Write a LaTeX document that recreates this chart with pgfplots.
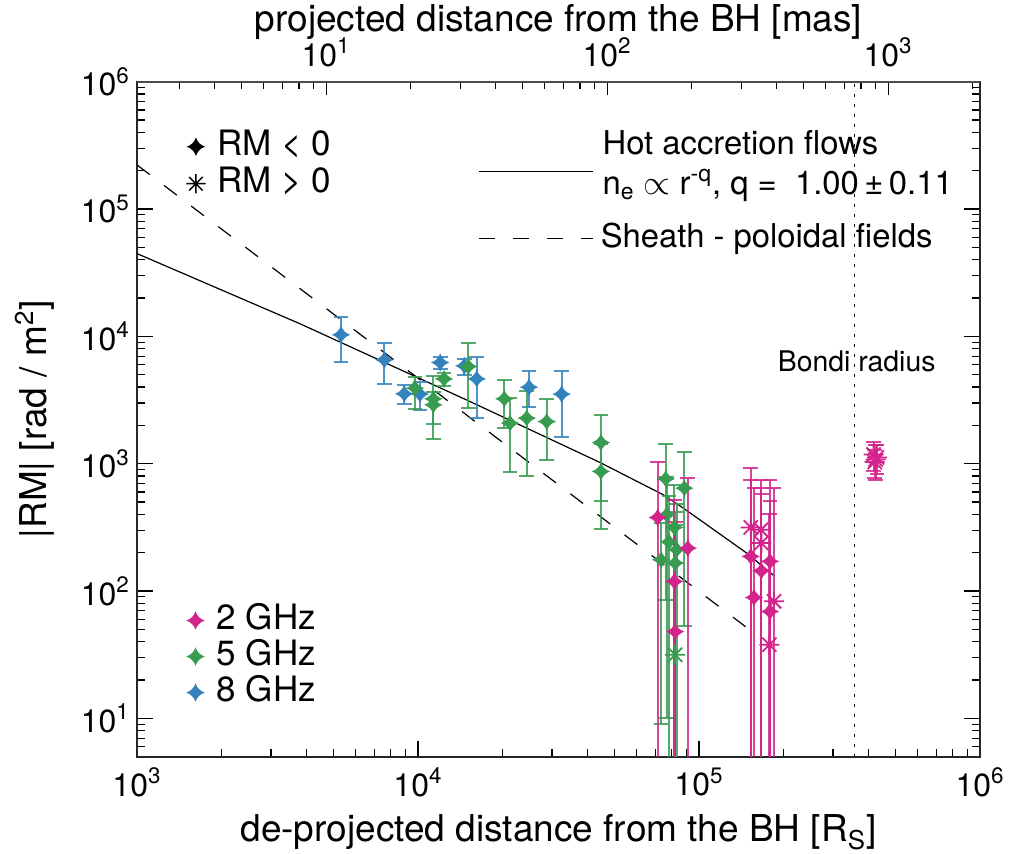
\documentclass[border=0pt]{standalone}
\usepackage{pgfplots}
\pgfplotsset{compat=1.18}
\usepackage{fontspec}
\setmainfont{TeX Gyre Heros}
\definecolor{mag}{RGB}{212,35,140}
\definecolor{grn}{RGB}{55,155,80}
\definecolor{blu}{RGB}{50,130,190}

\pgfdeclareplotmark{sparkle}{%
  \pgfpathmoveto{\pgfqpoint{0pt}{\pgfplotmarksize}}%
  \pgfpathquadraticcurveto{\pgfqpoint{0.25\pgfplotmarksize}{0.25\pgfplotmarksize}}{\pgfqpoint{\pgfplotmarksize}{0pt}}%
  \pgfpathquadraticcurveto{\pgfqpoint{0.25\pgfplotmarksize}{-0.25\pgfplotmarksize}}{\pgfqpoint{0pt}{-\pgfplotmarksize}}%
  \pgfpathquadraticcurveto{\pgfqpoint{-0.25\pgfplotmarksize}{-0.25\pgfplotmarksize}}{\pgfqpoint{-\pgfplotmarksize}{0pt}}%
  \pgfpathquadraticcurveto{\pgfqpoint{-0.25\pgfplotmarksize}{0.25\pgfplotmarksize}}{\pgfqpoint{0pt}{\pgfplotmarksize}}%
  \pgfpathclose
  \pgfusepathqfill
}
\pgfdeclareplotmark{ast8}{%
  \pgfpathmoveto{\pgfqpoint{0pt}{\pgfplotmarksize}}\pgfpathlineto{\pgfqpoint{0pt}{-\pgfplotmarksize}}%
  \pgfpathmoveto{\pgfqpoint{\pgfplotmarksize}{0pt}}\pgfpathlineto{\pgfqpoint{-\pgfplotmarksize}{0pt}}%
  \pgfpathmoveto{\pgfqpoint{0.7071\pgfplotmarksize}{0.7071\pgfplotmarksize}}\pgfpathlineto{\pgfqpoint{-0.7071\pgfplotmarksize}{-0.7071\pgfplotmarksize}}%
  \pgfpathmoveto{\pgfqpoint{-0.7071\pgfplotmarksize}{0.7071\pgfplotmarksize}}\pgfpathlineto{\pgfqpoint{0.7071\pgfplotmarksize}{-0.7071\pgfplotmarksize}}%
  \pgfusepathqstroke
}

\newcommand{\bigf}{\fontsize{16}{19}\selectfont}
\newcommand{\labf}{\fontsize{18.5}{22}\selectfont}
\newcommand{\legf}{\fontsize{17.5}{21}\selectfont}
\newcommand{\hotf}{\fontsize{16.4}{19.5}\selectfont}

\begin{document}
\begin{tikzpicture}
% ---------------- main axis ----------------
\begin{axis}[scale only axis, width=421.5pt, height=337.5pt, at={(0,0)}, anchor=south west,
  xmode=log, ymode=log, xmin=1e3, xmax=1e6, ymin=5, ymax=1e6,
  xtick={1e3,1e4,1e5,1e6},
  xticklabels={10\textsuperscript{3},10\textsuperscript{4},10\textsuperscript{5},10\textsuperscript{6}},
  ytick={10,100,1000,10000,100000,1000000},
  yticklabels={10\textsuperscript{1},10\textsuperscript{2},10\textsuperscript{3},10\textsuperscript{4},10\textsuperscript{5},10\textsuperscript{6}},
  minor xtick={2000,3000,4000,5000,6000,7000,8000,9000,20000,30000,40000,50000,60000,70000,80000,90000,200000,300000,400000,500000,600000,700000,800000,900000},
  minor ytick={6,7,8,9,20,30,40,50,60,70,80,90,200,300,400,500,600,700,800,900,2000,3000,4000,5000,6000,7000,8000,9000,20000,30000,40000,50000,60000,70000,80000,90000,200000,300000,400000,500000,600000,700000,800000,900000},
  xtick pos=bottom, ytick pos=both,
  tick align=inside, major tick length=8pt, minor tick length=4pt,
  axis line style={line width=1pt, black!85},
  tick style={line width=0.6pt, black},
  ticklabel style={font=\bigf},
  xticklabel style={yshift=-2pt},
  label style={font=\labf},
  xlabel={de-projected distance from the BH [R\textsubscript{S}]},
  ylabel={|RM| [rad / m\textsuperscript{2}]},
  xlabel style={at={(axis description cs:0.5,-0.112)}, anchor=center},
  ylabel style={at={(axis description cs:-0.121,0.5)}, anchor=center},
  legend cell align=left,
  legend style={draw=none, fill=none, font=\legf, inner sep=0pt,
    nodes={inner sep=1pt, text height=12pt, text depth=3pt}, row sep=1pt,
    at={(axis description cs:0.058,0.2275)}, anchor=north west},
]
% Bondi radius
\addplot[forget plot, black, line width=0.7pt, dash pattern=on 1.5pt off 3.5pt] coordinates {(357000,5) (357000,1000000)};
\node[font=\fontsize{14.2}{17}\selectfont, anchor=base] at (axis cs:364000,5295) {Bondi radius};
% hot accretion flow model
\addplot[forget plot, black, line width=0.6pt] coordinates {
(1000,44670) (3811,12535) (15315,3078) (44430,1022) (74650,570) (87940,448) (147800,198.8) (184900,131.9)};
% sheath model
\addplot[forget plot, black, line width=0.6pt, dash pattern=on 8pt off 9pt] coordinates {(1000,222000) (158000,46.2)};

% 8 GHz, RM<0
\addplot[forget plot, only marks, mark=sparkle, mark size=4.6pt, color=blu,
  error bars/.cd, y dir=both, y explicit,
  error bar style={line width=1pt, opacity=0.85},
  error mark options={rotate=90, mark size=3.7pt, line width=1pt, opacity=0.85}]
 table[x=x, y=y, y error plus=ep, y error minus=em] {
x y ep em
5320 10290 4000 3950
7590 6540 2300 2320
8935 3540 620 600
10160 3520 890 870
11990 6230 640 710
14620 5865 760 875
16180 4635 2300 2355
24830 3990 1310 1210
32440 3520 1870 1885
};
% 5 GHz, RM<0
\addplot[forget plot, only marks, mark=sparkle, mark size=4.6pt, color=grn,
  error bars/.cd, y dir=both, y explicit,
  error bar style={line width=1pt, opacity=0.85},
  error mark options={rotate=90, mark size=3.7pt, line width=1pt, opacity=0.85}]
 table[x=x, y=y, y error plus=ep, y error minus=em] {
x y ep em
9750 3920 915 1237
11340 3232 1670 1670
11340 2899 790 845
12375 4635 565 550
15100 5800 3130 3040
20280 3232 1325 1330
21250 2083 1224 1224
24370 2280 1476 1476
28710 2143 1090 1083
44770 1466 954 954
44770 869 560 560
76140 760 675 675
88660 643 590 590
76740 397 387 387
81660 316 366 315
78170 243 312 242
83310 211 272 210
73280 176 167 167
82230 166 250 165
};
% 5 GHz, RM>0
\addplot[forget plot, only marks, mark=ast8, mark size=5pt, color=grn, mark options={line width=0.9pt},
  error bars/.cd, y dir=both, y explicit,
  error bar style={line width=1pt, opacity=0.85},
  error mark options={rotate=90, mark size=3.7pt, line width=1pt, opacity=0.85}]
 table[x=x, y=y, y error plus=ep, y error minus=em] {
x y ep em
82230 31.6 300 30.6
};
% 2 GHz, RM<0
\addplot[forget plot, only marks, mark=sparkle, mark size=4.6pt, color=mag,
  error bars/.cd, y dir=both, y explicit,
  error bar style={line width=1pt, opacity=0.85},
  error mark options={rotate=90, mark size=3.7pt, line width=1pt, opacity=0.85}]
 table[x=x, y=y, y error plus=ep, y error minus=em] {
x y ep em
71290 378 652 377
91200 217 554 216
81660 119 400 118
82230 48 300 47
152800 187 561 186
156900 89 554 88
166700 144 436 143
178900 171 577 170
178900 69 443 68
};
% 2 GHz, RM>0
\addplot[forget plot, only marks, mark=ast8, mark size=5pt, color=mag, mark options={line width=0.9pt},
  error bars/.cd, y dir=both, y explicit,
  error bar style={line width=1pt, opacity=0.85},
  error mark options={rotate=90, mark size=3.7pt, line width=1pt, opacity=0.85}]
 table[x=x, y=y, y error plus=ep, y error minus=em] {
x y ep em
152800 316 617 315
166200 303 445 302
166700 238 405 237
178000 37.9 364 36.9
185000 83 560 82
418000 1180 300 300
425000 1080 330 330
430000 1120 290 290
422000 1030 260 260
};
\addlegendimage{only marks, mark=sparkle, mark size=4.6pt, mag}
\addlegendentry{\hspace{5pt}2 GHz}
\addlegendimage{only marks, mark=sparkle, mark size=4.6pt, grn}
\addlegendentry{\hspace{5pt}5 GHz}
\addlegendimage{only marks, mark=sparkle, mark size=4.6pt, blu}
\addlegendentry{\hspace{5pt}8 GHz}
\end{axis}

% ---------------- RM sign legend ----------------
\begin{axis}[scale only axis, width=421.5pt, height=337.5pt, at={(0,0)}, anchor=south west,
  xmode=log, ymode=log, xmin=1e3, xmax=1e6, ymin=5, ymax=1e6, hide axis,
  legend cell align=left,
  legend style={draw=none, fill=none, font=\legf, inner sep=0pt,
    nodes={inner sep=1pt, text height=12pt, text depth=3pt}, row sep=1.5pt,
    at={(axis description cs:0.058,0.9295)}, anchor=north west}]
\addplot[forget plot, draw=none] coordinates {(1e4,1e3)};
\addlegendimage{only marks, mark=sparkle, mark size=4.6pt, black}
\addlegendentry{\hspace{5pt}RM < 0}
\addlegendimage{only marks, mark=ast8, mark size=4.8pt, black, mark options={line width=0.7pt}}
\addlegendentry{\hspace{5pt}RM > 0}
\end{axis}

% ---------------- model legend: hot accretion flows ----------------
\begin{axis}[scale only axis, width=421.5pt, height=337.5pt, at={(0,0)}, anchor=south west,
  xmode=log, ymode=log, xmin=1e3, xmax=1e6, ymin=5, ymax=1e6, hide axis,
  legend cell align=left,
  legend style={draw=none, fill=none, font=\hotf, inner sep=0pt,
    nodes={inner sep=1pt, text height=12pt, text depth=3pt}, row sep=3pt,
    at={(axis description cs:0.4045,0.9314)}, anchor=north west}]
\addplot[forget plot, draw=none] coordinates {(1e4,1e3)};
\addlegendimage{legend image code/.code={}}
\addlegendentry{\hspace{3.5pt}Hot accretion flows}
\addlegendimage{legend image code/.code={\draw[black, line width=0.6pt] (0pt,7pt) -- (57pt,7pt);}}
\addlegendentry{\hspace{3.5pt}n\textsubscript{e} $\propto$ r\textsuperscript{-q}, q =\ \ 1.00\,±\,0.11}
\end{axis}

% ---------------- model legend: sheath ----------------
\begin{axis}[scale only axis, width=421.5pt, height=337.5pt, at={(0,0)}, anchor=south west,
  xmode=log, ymode=log, xmin=1e3, xmax=1e6, ymin=5, ymax=1e6, hide axis,
  legend cell align=left,
  legend style={draw=none, fill=none, font=\hotf, inner sep=0pt,
    nodes={inner sep=1pt, text height=12pt, text depth=3pt},
    at={(axis description cs:0.4045,0.7932)}, anchor=north west}]
\addplot[forget plot, draw=none] coordinates {(1e4,1e3)};
\addlegendimage{legend image code/.code={\draw[black, line width=0.6pt, dash pattern=on 8pt off 9pt] (0pt,0pt) -- (57pt,0pt);}}
\addlegendentry{\hspace{2.6pt}Sheath - poloidal fields}
\end{axis}

% ---------------- top axis (mas) ----------------
\begin{axis}[scale only axis, width=421.5pt, height=337.5pt, at={(0,0)}, anchor=south west,
  xmode=log, ymode=log, xmin=2.123, xmax=2123, ymin=5, ymax=1e6,
  axis x line*=top, axis y line=none,
  xtick={10,100,1000},
  xticklabels={10\textsuperscript{1},10\textsuperscript{2},10\textsuperscript{3}},
  minor xtick={3,4,5,6,7,8,9,20,30,40,50,60,70,80,90,200,300,400,500,600,700,800,900,2000},
  tick align=inside, major tick length=6.5pt, minor tick length=3.5pt,
  axis line style={line width=1pt, black!70},
  tick style={line width=0.6pt, black},
  ticklabel style={font=\bigf},
  xticklabel style={yshift=4pt},
  label style={font=\labf},
  xlabel={projected distance from the BH [mas]},
  xlabel style={at={(axis description cs:0.5,1.089)}, anchor=center},
]
\addplot[forget plot, draw=none] coordinates {(10,100)};
\end{axis}

\pgfresetboundingbox
\path[use as bounding box] (-68.5pt,-48.15pt) rectangle (436.5pt,378.35pt);
\end{tikzpicture}
\end{document}
